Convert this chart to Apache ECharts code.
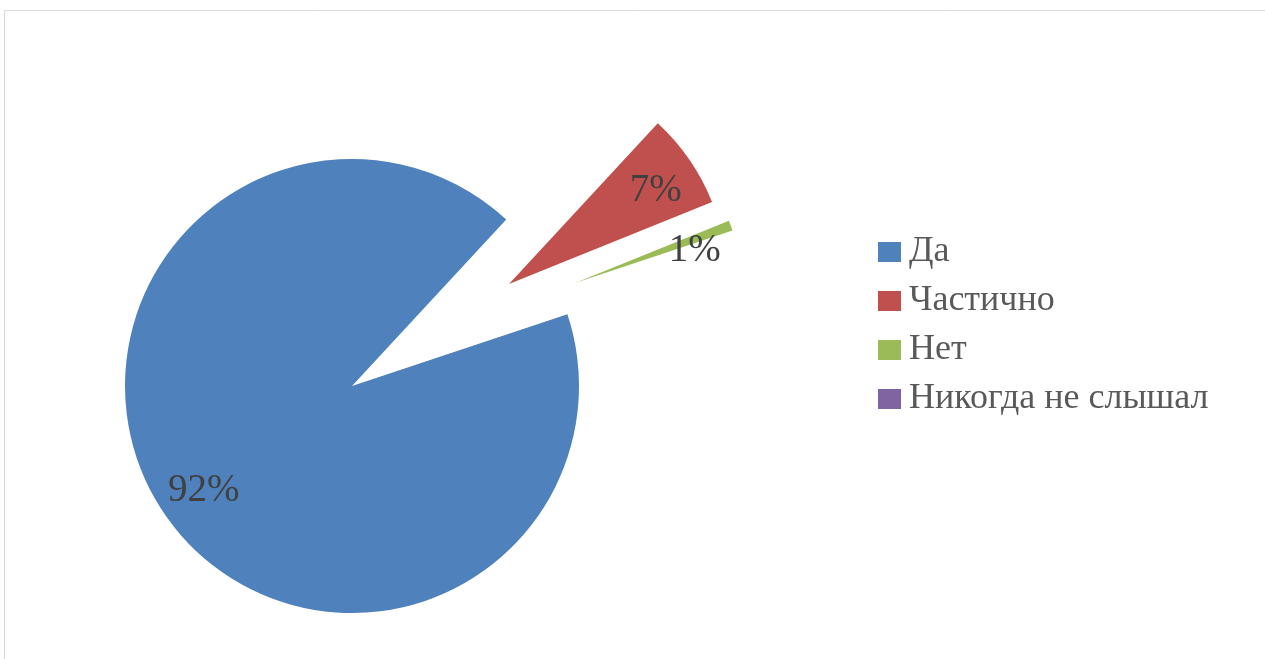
<!DOCTYPE html>
<html>
<head>
<meta charset="utf-8">
<script src="https://cdn.jsdelivr.net/npm/echarts@6/dist/echarts.min.js"></script>
<style>
html,body{margin:0;padding:0;background:#fff;}
#chart{width:1265px;height:659px;}
</style>
</head>
<body>
<div id="chart"></div>
<script>
// ---- data ----
const categories = ['Да', 'Частично', 'Нет', 'Никогда не слышал'];
const values = [92, 7, 1, 0];
const labelTexts = ['92%', '7%', '1%', '0%'];

// ---- style / layout ----
const colors = ['#4F81BD', '#C0504D', '#9BBB59', '#8064A2'];
const startAngle = 18.4;
// one exploded slice per series (index into categories)
const sliceCenters = [[352, 386], [509, 284], [575, 283]];
const sliceRadii = [227, 219, 166];
const labelFrac = [0.79, 0.80, 0.75];
const labelNudge = [[5, 6], [0, 8], [0, 12]];

const total = values.reduce((a, b) => a + b, 0);
function midAngleDeg(i) {
  let before = 0;
  for (let k = 0; k < i; k++) before += values[k];
  const mid = before + values[i] / 2;
  return startAngle - mid / total * 360;
}

const series = sliceCenters.map((c, s) => {
  const R = sliceRadii[s];
  const a = midAngleDeg(s) * Math.PI / 180;
  const shift = (labelFrac[s] - 0.5) * R;
  const off = [shift * Math.cos(a) + labelNudge[s][0], -shift * Math.sin(a) + labelNudge[s][1]];
  return {
    type: 'pie',
    center: c,
    radius: [0, R],
    startAngle: startAngle,
    clockwise: true,
    silent: true,
    animation: false,
    avoidLabelOverlap: false,
    labelLine: { show: false },
    data: categories.map((name, i) => ({
      name: name,
      value: values[i],
      itemStyle: { color: i === s ? colors[i] : 'rgba(0,0,0,0)' },
      label: i === s ? {
        show: true,
        position: 'inside',
        formatter: labelTexts[i],
        offset: off,
        fontFamily: '"Liberation Serif", "DejaVu Serif", serif',
        fontSize: 39,
        color: '#404040'
      } : { show: false }
    }))
  };
});

const chart = echarts.init(document.getElementById('chart'), null, { renderer: 'canvas' });
chart.setOption({
  backgroundColor: '#ffffff',
  animation: false,
  graphic: [{
    type: 'rect',
    shape: { x: 4.5, y: 10.5, width: 1300, height: 700 },
    style: { fill: 'none', stroke: '#d9d9d9', lineWidth: 1 },
    silent: true
  }],
  legend: {
    orient: 'vertical',
    left: 878,
    top: 234,
    padding: 0,
    itemWidth: 23,
    itemHeight: 20,
    itemGap: 13,
    icon: 'rect',
    selectedMode: false,
    textStyle: {
      fontFamily: '"Liberation Serif", "DejaVu Serif", serif',
      fontSize: 36,
      lineHeight: 36,
      color: '#595959',
      padding: [0, 0, 0, 3]
    },
    data: categories.map((name, i) => ({ name: name, itemStyle: { color: colors[i], opacity: 1 } }))
  },
  series: series
});
</script>
</body>
</html>
